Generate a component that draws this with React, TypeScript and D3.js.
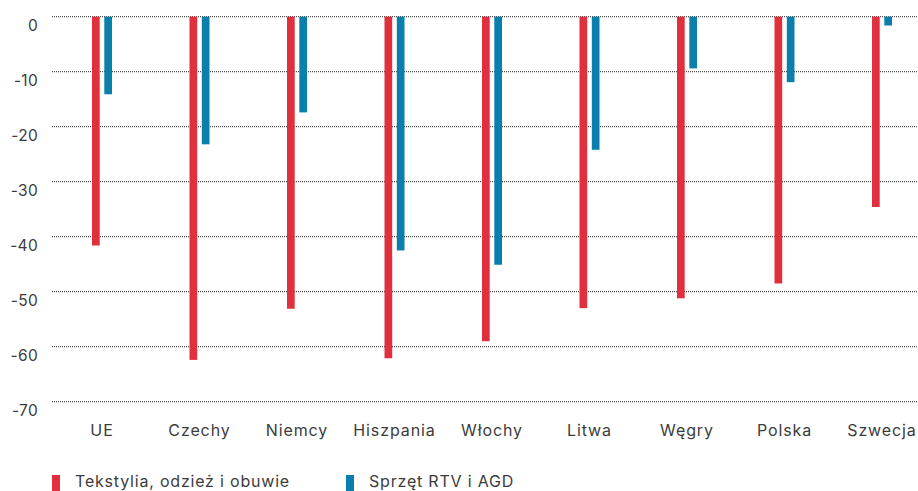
import { useEffect, useRef } from "react";
import * as d3 from "d3";

const categories = ["UE", "Czechy", "Niemcy", "Hiszpania", "Włochy", "Litwa", "Węgry", "Polska", "Szwecja"];
const textile = [-41.6, -62.4, -53.1, -62.1, -59.0, -53.0, -51.2, -48.5, -34.6];
const electronics = [-14.1, -23.2, -17.4, -42.5, -45.1, -24.2, -9.4, -11.9, -1.6];
const seriesNames = ["Tekstylia, odzież i obuwie", "Sprzęt RTV i AGD"];
const seriesColors = ["#e02f3d", "#0a7fab"];
const yTicks = [0, -10, -20, -30, -40, -50, -60, -70];

const W = 918;
const H = 491;

export default function App() {
    const svgRef = useRef<SVGSVGElement>(null);

    useEffect(() => {
        const svg = d3.select(svgRef.current);
        svg.selectAll("*").remove();

        const font = "Inter, 'Open Sans', sans-serif";
        const textColor = "#3c3c3c";

        const y = d3.scaleLinear().domain([0, -70]).range([16.7, 401.7]);
        const x = d3.scaleBand<string>().domain(categories).range([53.25, 930.75]).padding(0);
        const inner = d3.scaleBand<number>().domain([0, 1]).range([0, 20]).paddingInner(0.374);
        const offset = x.bandwidth() / 2 - 10;

        // grid lines
        svg.append("g")
            .selectAll("line")
            .data(yTicks)
            .join("line")
            .attr("x1", 52)
            .attr("x2", W)
            .attr("y1", (d) => y(d))
            .attr("y2", (d) => y(d))
            .attr("stroke", "#222")
            .attr("stroke-width", 1)
            .attr("stroke-dasharray", "1,1");

        // y labels
        svg.append("g")
            .selectAll("text")
            .data(yTicks)
            .join("text")
            .attr("x", 38)
            .attr("y", (d) => y(d) + 14)
            .attr("text-anchor", "end")
            .attr("font-family", font)
            .attr("font-size", 15.5)
            .attr("letter-spacing", 0.3)
            .attr("fill", textColor)
            .text((d) => d);

        // bars
        const groups = svg.append("g")
            .selectAll("g")
            .data(categories)
            .join("g")
            .attr("transform", (d) => `translate(${x(d)! + offset},0)`);

        groups.selectAll("rect")
            .data((d, i) => [textile[i], electronics[i]].map((v, s) => ({ v, s })))
            .join("rect")
            .attr("x", (d) => inner(d.s)!)
            .attr("width", inner.bandwidth())
            .attr("y", y(0))
            .attr("height", (d) => y(d.v) - y(0))
            .attr("fill", (d) => seriesColors[d.s]);

        // category labels
        svg.append("g")
            .selectAll("text")
            .data(categories)
            .join("text")
            .attr("x", (d) => x(d)! + x.bandwidth() / 2)
            .attr("y", 436)
            .attr("text-anchor", "middle")
            .attr("font-family", font)
            .attr("font-size", 16)
            .attr("letter-spacing", 0.9)
            .attr("fill", textColor)
            .text((d) => d);

        // legend
        const legendX = [52, 346];
        const legend = svg.append("g")
            .selectAll("g")
            .data(seriesNames)
            .join("g")
            .attr("transform", (d, i) => `translate(${legendX[i]},0)`);
        legend.append("rect")
            .attr("x", 0)
            .attr("y", 475)
            .attr("width", 8)
            .attr("height", 16)
            .attr("fill", (d, i) => seriesColors[i]);
        legend.append("text")
            .attr("x", 23)
            .attr("y", 487)
            .attr("font-family", font)
            .attr("font-size", 16)
            .attr("letter-spacing", 0.8)
            .attr("fill", textColor)
            .text((d) => d);
    }, []);

    return (
        <svg
            ref={svgRef}
            width={W}
            height={H}
            style={{ position: "absolute", left: 0, top: 0, display: "block", background: "#fff" }}
        />
    );
}
